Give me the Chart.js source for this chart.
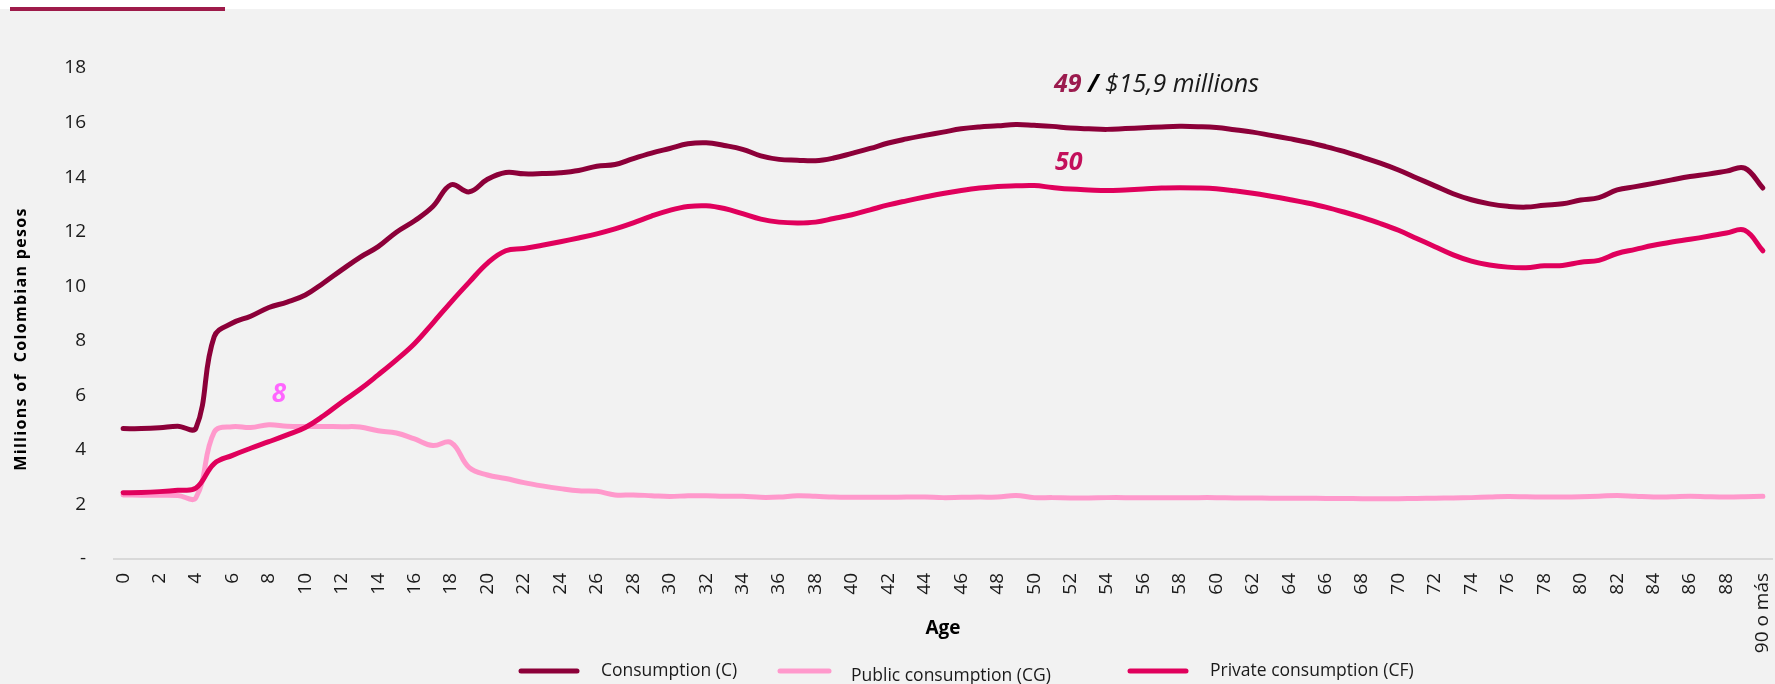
<!DOCTYPE html>
<html>
<head>
<meta charset="utf-8">
<script src="https://cdn.jsdelivr.net/npm/chart.js@4.4.0/dist/chart.umd.min.js"></script>
<style>
html, body { margin: 0; padding: 0; background: #f2f2f2; overflow: hidden; }
#wrap { width: 1775px; height: 684px; }
</style>
</head>
<body>
<div id="wrap"><canvas id="consumoChart" width="1775" height="684"></canvas></div>
<script>
// Edades (categorías del eje X)
var ages = ['0', '1', '2', '3', '4', '5', '6', '7', '8', '9',
    '10', '11', '12', '13', '14', '15', '16', '17', '18', '19',
    '20', '21', '22', '23', '24', '25', '26', '27', '28', '29',
    '30', '31', '32', '33', '34', '35', '36', '37', '38', '39',
    '40', '41', '42', '43', '44', '45', '46', '47', '48', '49',
    '50', '51', '52', '53', '54', '55', '56', '57', '58', '59',
    '60', '61', '62', '63', '64', '65', '66', '67', '68', '69',
    '70', '71', '72', '73', '74', '75', '76', '77', '78', '79',
    '80', '81', '82', '83', '84', '85', '86', '87', '88', '89',
    '90 o más'];

// Millones de pesos colombianos
var consumption = [4.78, 4.78, 4.81, 4.87, 4.80, 8.15, 8.65, 8.90, 9.22, 9.42,
    9.68, 10.12, 10.60, 11.06, 11.45, 11.98, 12.40, 12.92, 13.72, 13.46,
    13.92, 14.17, 14.12, 14.13, 14.16, 14.24, 14.40, 14.46, 14.68, 14.88,
    15.05, 15.22, 15.26, 15.16, 15.02, 14.78, 14.65, 14.62, 14.60, 14.70,
    14.87, 15.05, 15.25, 15.40, 15.53, 15.65, 15.77, 15.84, 15.88, 15.93,
    15.90, 15.86, 15.80, 15.77, 15.75, 15.78, 15.81, 15.84, 15.86, 15.85,
    15.82, 15.74, 15.65, 15.53, 15.41, 15.28, 15.12, 14.94, 14.73, 14.51,
    14.26, 13.97, 13.68, 13.39, 13.17, 13.02, 12.93, 12.90, 12.97, 13.02,
    13.16, 13.25, 13.53, 13.65, 13.77, 13.90, 14.02, 14.11, 14.22, 14.33,
    13.60];

var publicConsumption = [2.35, 2.34, 2.34, 2.33, 2.25, 4.65, 4.85, 4.82, 4.92, 4.87,
    4.86, 4.86, 4.85, 4.84, 4.70, 4.62, 4.40, 4.16, 4.27, 3.35,
    3.08, 2.95, 2.80, 2.68, 2.58, 2.50, 2.48, 2.35, 2.35, 2.32,
    2.29, 2.32, 2.32, 2.30, 2.30, 2.26, 2.27, 2.32, 2.30, 2.27,
    2.26, 2.26, 2.26, 2.27, 2.27, 2.25, 2.26, 2.27, 2.27, 2.33,
    2.25, 2.25, 2.24, 2.24, 2.25, 2.25, 2.25, 2.25, 2.25, 2.25,
    2.25, 2.24, 2.24, 2.23, 2.23, 2.23, 2.22, 2.22, 2.21, 2.21,
    2.21, 2.22, 2.23, 2.24, 2.25, 2.27, 2.29, 2.28, 2.27, 2.27,
    2.28, 2.30, 2.33, 2.30, 2.27, 2.28, 2.30, 2.28, 2.27, 2.28,
    2.30];

var privateConsumption = [2.43, 2.44, 2.47, 2.52, 2.60, 3.50, 3.80, 4.06, 4.30, 4.55,
    4.82, 5.25, 5.75, 6.22, 6.75, 7.30, 7.90, 8.65, 9.42, 10.15,
    10.85, 11.30, 11.38, 11.50, 11.63, 11.77, 11.92, 12.10, 12.32, 12.57,
    12.78, 12.92, 12.95, 12.85, 12.66, 12.46, 12.35, 12.32, 12.35, 12.48,
    12.62, 12.80, 12.98, 13.13, 13.27, 13.40, 13.51, 13.60, 13.66, 13.68,
    13.69, 13.62, 13.56, 13.53, 13.51, 13.53, 13.56, 13.60, 13.61, 13.60,
    13.57, 13.50, 13.41, 13.30, 13.18, 13.05, 12.90, 12.72, 12.52, 12.30,
    12.05, 11.75, 11.45, 11.15, 10.92, 10.78, 10.70, 10.68, 10.75, 10.76,
    10.88, 10.95, 11.20, 11.35, 11.50, 11.62, 11.72, 11.83, 11.95, 12.05,
    11.30];

var seriesLabels = ['Consumption (C)', 'Public consumption (CG)', 'Private consumption (CF)'];
var seriesColors = ['#8c0039', '#ff99cc', '#e0005c'];

var FONT = "'Open Sans', 'Noto Sans', sans-serif";
Chart.defaults.font.family = FONT;
Chart.defaults.color = '#1a1a1a';

// Fondo gris y barra superior
var backgroundPlugin = {
    id: 'fondo',
    beforeDraw: function (chart) {
        var ctx = chart.ctx;
        ctx.save();
        ctx.fillStyle = '#ffffff';
        ctx.fillRect(0, 0, chart.width, chart.height);
        ctx.fillStyle = '#f2f2f2';
        ctx.fillRect(0, 9, chart.width, chart.height - 9);
        ctx.fillStyle = '#9e1b4a';
        ctx.fillRect(10, 7, 215, 4);
        ctx.restore();
    }
};

// Etiquetas, título del eje Y y leyenda
var extrasPlugin = {
    id: 'extras',
    afterDraw: function (chart) {
        var ctx = chart.ctx;
        var x = chart.scales.x;
        var y = chart.scales.y;
        ctx.save();

        // Título eje Y
        ctx.translate(21, 339);
        ctx.rotate(-Math.PI / 2);
        ctx.font = 'bold 16px ' + FONT;
        ctx.letterSpacing = '1.3px';
        ctx.fillStyle = '#000';
        ctx.textAlign = 'center';
        ctx.textBaseline = 'middle';
        ctx.fillText('Millions of  Colombian pesos', 0, 0);
        ctx.restore();

        ctx.save();
        ctx.textBaseline = 'alphabetic';
        ctx.textAlign = 'left';

        // 49 / $15,9 millions
        var px = x.getPixelForValue(49) + 38;
        var py = y.getPixelForValue(consumption[49]) - 32;
        ctx.font = 'italic bold 25px ' + FONT;
        ctx.fillStyle = '#9b1b4e';
        ctx.fillText('49', px, py);
        px += ctx.measureText('49 ').width;
        ctx.fillStyle = '#000';
        ctx.fillText('/', px, py);
        px += ctx.measureText('/').width;
        ctx.font = 'italic 25px ' + FONT;
        ctx.fillStyle = '#1a1a1a';
        ctx.fillText(' $15,9 millions', px, py);

        // 50
        ctx.font = 'italic bold 25px ' + FONT;
        ctx.fillStyle = '#c3105b';
        ctx.fillText('50', x.getPixelForValue(50) + 21, y.getPixelForValue(privateConsumption[50]) - 16);

        // 8
        ctx.font = 'italic bold 26px ' + FONT;
        ctx.fillStyle = '#ff66ff';
        ctx.textAlign = 'center';
        ctx.fillText('8', x.getPixelForValue(8) + 10, y.getPixelForValue(publicConsumption[8]) - 23);

        // Leyenda
        var items = [
            {lineStart: 521, lineEnd: 577, textX: 601, dy: 0},
            {lineStart: 780, lineEnd: 829, textX: 851, dy: 5},
            {lineStart: 1130, lineEnd: 1186, textX: 1210, dy: 0}
        ];
        ctx.textAlign = 'left';
        ctx.font = '17.5px ' + FONT;
        chart.data.datasets.forEach(function (ds, i) {
            var it = items[i];
            ctx.strokeStyle = ds.borderColor;
            ctx.lineWidth = 5;
            ctx.lineCap = 'round';
            ctx.beginPath();
            ctx.moveTo(it.lineStart, 671);
            ctx.lineTo(it.lineEnd, 671);
            ctx.stroke();
            ctx.fillStyle = '#1a1a1a';
            ctx.fillText(ds.label, it.textX, 676 + it.dy);
        });
        ctx.restore();
    }
};

function buildDatasets() {
    var values = [consumption, publicConsumption, privateConsumption];
    var orders = [2, 1, 0];
    return values.map(function (data, i) {
        return {
            label: seriesLabels[i],
            data: data,
            borderColor: seriesColors[i],
            backgroundColor: seriesColors[i],
            borderWidth: 5,
            pointRadius: 0,
            tension: 0.4,
            borderCapStyle: 'round',
            borderJoinStyle: 'round',
            fill: false,
            order: orders[i]
        };
    });
}

var ctx = document.getElementById('consumoChart').getContext('2d');
new Chart(ctx, {
    type: 'line',
    data: {
        labels: ages,
        datasets: buildDatasets()
    },
    options: {
        responsive: false,
        animation: false,
        devicePixelRatio: 1,
        layout: {
            padding: {top: 68, right: 3, bottom: 0, left: 0}
        },
        plugins: {
            legend: {display: false},
            tooltip: {enabled: false}
        },
        scales: {
            x: {
                type: 'category',
                offset: true,
                grid: {display: false, drawTicks: false},
                border: {display: true, color: '#d9d9d9', width: 2},
                ticks: {
                    autoSkip: false,
                    maxRotation: 90,
                    minRotation: 90,
                    padding: 14,
                    color: '#1a1a1a',
                    font: {size: 19},
                    callback: function (value, index) {
                        return index % 2 === 0 ? ages[index] : '';
                    }
                },
                title: {
                    display: true,
                    text: 'Age',
                    color: '#000',
                    font: {size: 19, weight: 'bold'},
                    padding: {top: 0, bottom: 44}
                },
                afterFit: function (scale) {
                    scale.height = 125;
                    scale.paddingLeft = 0;
                    scale.paddingRight = 0;
                }
            },
            y: {
                min: 0,
                max: 18,
                grid: {display: false, drawTicks: false},
                border: {display: false},
                ticks: {
                    stepSize: 2,
                    padding: 28,
                    color: '#1a1a1a',
                    font: {size: 19},
                    callback: function (value) {
                        return value === 0 ? '-' : value;
                    }
                },
                afterFit: function (scale) {
                    scale.width = 114;
                }
            }
        }
    },
    plugins: [backgroundPlugin, extrasPlugin]
});
</script>
</body>
</html>
